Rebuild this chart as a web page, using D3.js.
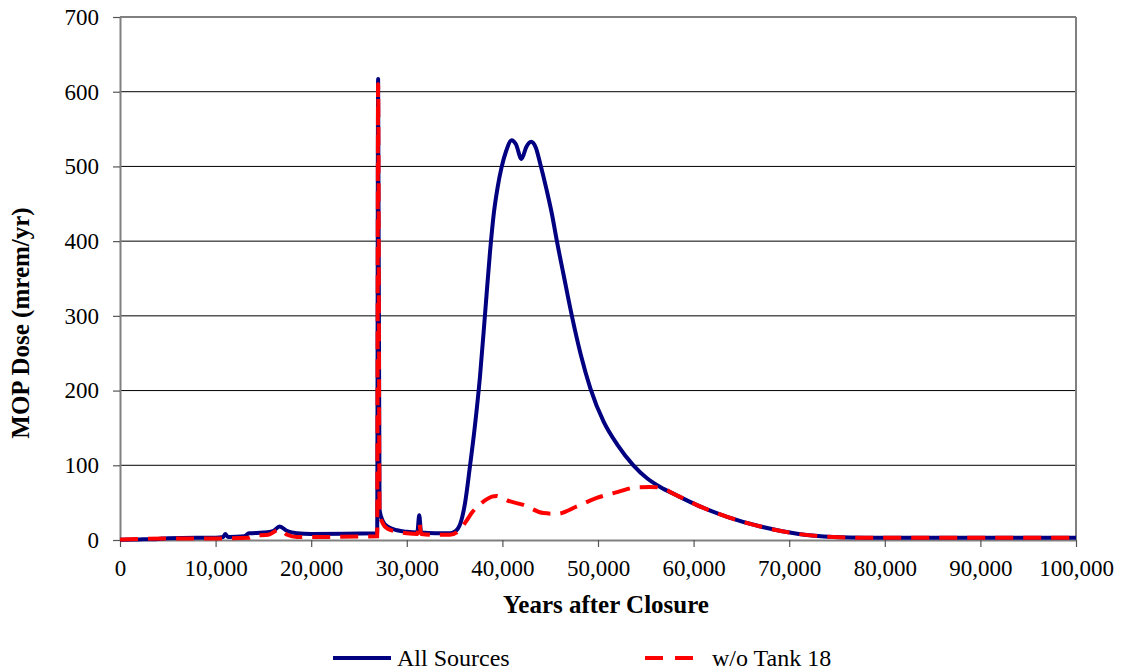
<!DOCTYPE html>
<html>
<head>
<meta charset="utf-8">
<script src="https://cdn.jsdelivr.net/npm/d3@7"></script>
<style>
  body { margin: 0; background: #fff; }
  svg text { font-family: "Liberation Serif", "DejaVu Serif", serif; }
</style>
</head>
<body>
<svg id="chart" width="1121" height="672"></svg>
<script>
// years after closure / dose (mrem/yr)
var allYears = [0, 2000, 4000, 5000, 8000, 10000, 10800, 11000, 11300, 13000, 13500, 15000, 16000, 16700, 17500, 18500, 20000, 26900, 27000, 27150, 27500, 28000, 29000, 30000, 31100, 31300, 31500, 33000, 34500, 35000, 35600, 36100, 36600, 37100, 37650, 38200, 38700, 39100, 39500, 39900, 40400, 40970, 41400, 42000, 42500, 43000, 43500, 43930, 44600, 45200, 45700, 46400, 47300, 48200, 49200, 50600, 52000, 53700, 55100, 56500, 58200, 60300, 63500, 67000, 71000, 74600, 78000, 100000];
var allDose = [0.5, 0.8, 1.5, 2.5, 3, 3, 4, 8, 4, 5, 9, 10, 12, 18, 12, 9, 8, 9, 617, 40, 25, 18, 13, 11, 10, 33, 10, 9, 9, 11, 22, 50, 98, 150, 218, 305, 385, 437, 472, 498, 521, 535, 530, 510, 526, 533, 525, 505, 470, 435, 400, 355, 298, 248, 203, 158, 128, 100, 83, 71, 60, 47, 31, 18, 8, 4, 3, 3];

var noTankYears = [0, 5000, 10000, 13500, 14000, 15500, 16700, 17500, 18500, 26900, 27000, 27150, 27500, 28000, 29000, 30000, 31100, 31300, 31500, 33000, 34500, 35500, 36200, 36900, 37600, 38300, 38900, 39400, 40000, 40500, 42200, 44300, 45700, 47800, 49800, 52000, 54000, 55500, 56500, 58200, 60300, 63500, 67000, 71000, 74600, 78000, 100000];
var noTankDose = [0.5, 2, 2, 3, 6, 7, 14, 7, 4, 5, 610, 35, 22, 15, 11, 9, 8, 23, 8, 7, 7, 13, 25, 38, 47, 54, 58, 59, 56, 53, 47, 36, 35, 45, 56, 64, 70.5, 71, 70, 60, 47, 31, 18, 8, 4, 3, 3];

var xTicks = d3.range(0, 100001, 10000);
var yTicks = d3.range(0, 701, 100);

var seriesNames = ['All Sources', 'w/o Tank 18'];
var seriesColors = ['#000080', '#ff0000'];

var margin = {left: 120, top: 17, right: 45, bottom: 132};
var width = 1121, height = 672;
var serif = '"Liberation Serif", "DejaVu Serif", serif';

var svg = d3.select('#chart');

var x = d3.scaleLinear().domain([0, 100000]).range([margin.left, width - margin.right]);
var y = d3.scaleLinear().domain([0, 700]).range([height - margin.bottom, margin.top]);

// horizontal grid lines
svg.append('g')
    .selectAll('line')
    .data(yTicks.slice(1))
    .enter()
    .append('line')
    .attr('x1', x(0))
    .attr('x2', x(100000))
    .attr('y1', d => y(d))
    .attr('y2', d => y(d))
    .attr('stroke', d => d == 700 ? '#808080' : '#000')
    .attr('stroke-width', d => d == 700 ? 2 : 1);

// right border
svg.append('line')
    .attr('x1', x(100000)).attr('x2', x(100000))
    .attr('y1', y(0)).attr('y2', y(700))
    .attr('stroke', '#808080')
    .attr('stroke-width', 2);

var xAxis = svg.append('g')
    .attr('transform', `translate(0, ${y(0)})`)
    .call(d3.axisBottom(x).tickValues(xTicks).tickSize(7).tickSizeOuter(0).tickPadding(13).tickFormat(d3.format(',')));

var yAxis = svg.append('g')
    .attr('transform', `translate(${x(0)}, 0)`)
    .call(d3.axisLeft(y).tickValues(yTicks).tickSize(7).tickSizeOuter(0).tickPadding(14));

[xAxis, yAxis].forEach(function (g) {
    g.attr('font-family', serif).attr('font-size', 23);
    g.select('.domain').attr('stroke', '#808080').attr('stroke-width', 2);
    g.selectAll('.tick line').attr('stroke', '#555').attr('stroke-width', 1.2);
    g.selectAll('.tick text')
        .attr('fill', '#000')
        .attr('font-family', serif)
        .attr('font-size', 23);
});

var line = d3.line()
    .x(d => x(d[0]))
    .y(d => y(d[1]))
    .curve(d3.curveMonotoneX);

var allData = d3.zip(allYears, allDose);
var noTankData = d3.zip(noTankYears, noTankDose);

svg.append('path')
    .datum(allData)
    .attr('d', line)
    .attr('fill', 'none')
    .attr('stroke', seriesColors[0])
    .attr('stroke-width', 4)
    .attr('stroke-linejoin', 'round');

svg.append('path')
    .datum(noTankData)
    .attr('d', line)
    .attr('fill', 'none')
    .attr('stroke', seriesColors[1])
    .attr('stroke-width', 4)
    .attr('stroke-dasharray', '18,10');

// axis titles
svg.append('text')
    .attr('x', 606)
    .attr('y', 613)
    .attr('text-anchor', 'middle')
    .attr('font-family', serif)
    .attr('font-weight', 'bold')
    .attr('font-size', 25)
    .text('Years after Closure');

svg.append('text')
    .attr('transform', 'translate(29, 323) rotate(-90)')
    .attr('text-anchor', 'middle')
    .attr('font-family', serif)
    .attr('font-weight', 'bold')
    .attr('font-size', 25)
    .text('MOP Dose (mrem/yr)');

// legend, kept just inside the bottom edge
var legendX = [333, 645];
var legend = svg.append('g')
    .selectAll('g')
    .data(seriesNames)
    .enter()
    .append('g')
    .attr('transform', (d, i) => `translate(${legendX[i]}, 658)`);

legend.append('line')
    .attr('x1', 0).attr('x2', (d, i) => i == 0 ? 58 : 60)
    .attr('y1', 0).attr('y2', 0)
    .attr('stroke', (d, i) => seriesColors[i])
    .attr('stroke-width', 4)
    .attr('stroke-dasharray', (d, i) => i == 0 ? null : '18,12');

legend.append('text')
    .attr('x', (d, i) => i == 0 ? 64 : 67)
    .attr('y', 8)
    .attr('font-family', serif)
    .attr('font-size', 24)
    .text(d => d);
</script>
</body>
</html>
